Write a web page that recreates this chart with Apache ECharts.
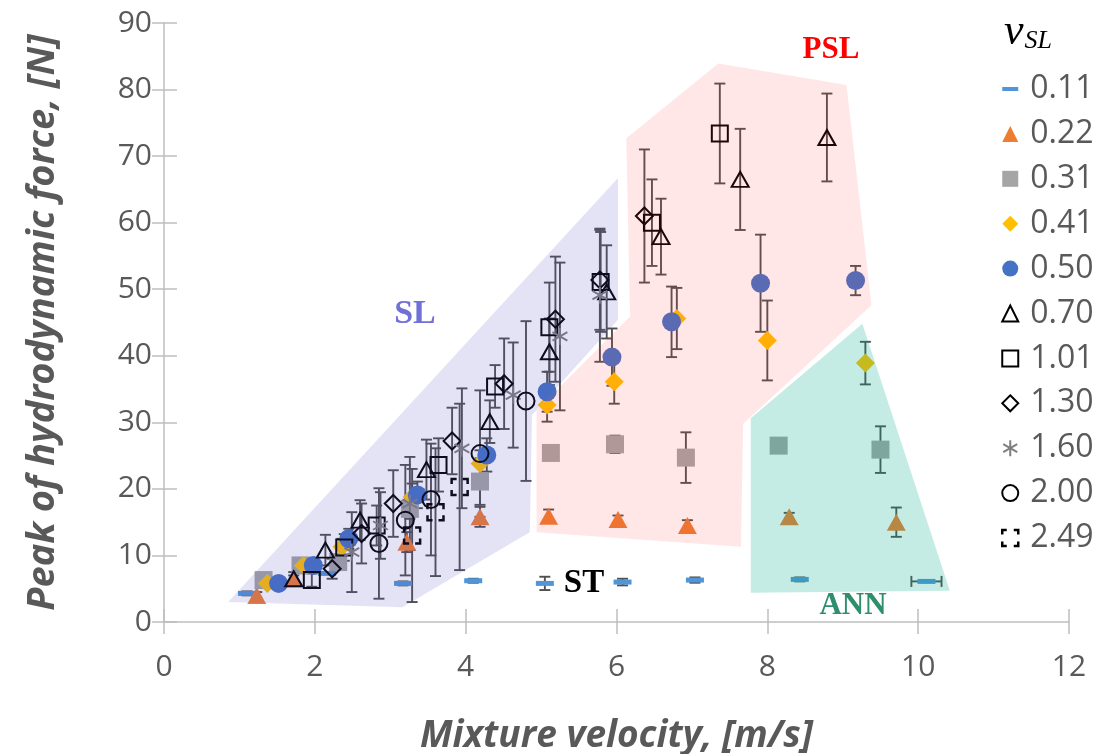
<!DOCTYPE html>
<html><head><meta charset="utf-8">
<script src="https://cdn.jsdelivr.net/npm/echarts@6/dist/echarts.min.js"></script>
<style>html,body{margin:0;padding:0;background:#fff}#c{width:1099px;height:754px}</style>
</head><body><div id="c"></div><script>
// Legend names (superficial liquid velocity, m/s)
const vSL = ['0.11','0.22','0.31','0.41','0.50','0.70','1.01','1.30','1.60','2.00','2.49'];
// Each point: [mixture velocity, peak force, ± y error, ± x error]
const s011 = [[1.10,4.3,0.3],[2.16,7.3,0],[3.17,5.8,0.3],[4.10,6.2,0.3],[5.05,5.8,1.0],[6.08,6.0,0.5],[7.04,6.3,0.4],[8.43,6.4,0.3],[10.11,6.1,0,0.2]];
const s022 = [[1.23,4.0,0.5],[1.72,6.5,0.5],[3.22,12.0,1.5],[4.19,15.8,1.5],[5.10,15.9,1.0],[6.02,15.4,0.6],[6.94,14.5,0.8],[8.29,15.8,0.6],[9.71,15.0,2.2]];
const s031 = [[1.32,6.3,0.5],[1.81,8.5,0.8],[2.31,9.0,1.0],[3.26,17.0,1.5],[4.19,21.1,3.5],[5.13,25.4,0.5],[5.98,26.7,1.3],[6.92,24.7,3.8],[8.15,26.5,0.5],[9.50,25.9,3.5]];
const s041 = [[1.37,5.8,0.5],[1.85,8.5,0.8],[2.36,11.3,1.2],[3.29,18.8,2.0],[4.19,23.8,2.0],[5.08,32.6,2.5],[5.97,36.1,3.3],[6.80,45.6,4.6],[8.00,42.3,6.0],[9.30,38.9,3.2]];
const s050 = [[1.52,5.8,0.5],[1.98,8.5,0.8],[2.45,12.5,1.5],[3.36,19.1,2.0],[4.28,25.1,2.5],[5.08,34.6,3.0],[5.94,39.8,4.3],[6.73,45.1,5.3],[7.91,50.9,7.3],[9.17,51.3,2.2]];
const s070 = [[1.72,6.5,1.0],[2.14,10.8,2.3],[2.60,15.3,3.0],[3.48,22.9,4.5],[4.32,30.1,3.2],[5.11,40.6,5.0],[5.87,49.6,7.0],[6.59,57.9,5.7],[7.64,66.5,7.6],[8.79,72.8,6.6]];
const s101 = [[1.96,6.3,1.0],[2.39,11.2,2.0],[2.82,14.5,3.0],[3.64,23.6,4.0],[4.39,35.4,3.2],[5.11,44.3,6.7],[5.79,51.1,7.5],[6.47,60.0,6.5],[7.37,73.4,7.5]];
const s130 = [[2.23,8.0,1.5],[2.62,13.3,4.5],[3.04,17.8,5.0],[3.82,27.2,5.0],[4.51,35.8,6.8],[5.19,45.5,9.4],[5.78,51.4,7.5],[6.37,61.0,10.0]];
const s160 = [[2.49,10.5,6.0],[2.87,14.5,5.0],[3.26,17.8,7.0],[3.95,26.1,9.0],[4.63,34.1,7.9],[5.25,42.9,11.1],[5.78,49.1,10.0]];
const s200 = [[2.85,11.8,8.3],[3.20,15.3,8.3],[3.54,18.4,8.4],[4.19,25.3,9.5],[4.80,33.2,12.0]];
const s249 = [[3.29,13.0,10.0],[3.60,16.5,9.6],[3.92,20.3,12.5]];
const SERIES_DATA = [s011,s022,s031,s041,s050,s070,s101,s130,s160,s200,s249];
// Flow-regime regions (vertices in data units)
const REGION_SL  = [[0.85,3.0],[6.02,66.7],[6.02,45.4],[4.88,31.1],[4.85,13.5],[3.16,2.2]];
const REGION_PSL = [[6.13,72.7],[7.35,83.9],[9.05,80.7],[9.38,47.6],[7.68,29.8],[7.65,11.3],[4.94,13.5],[4.94,31.8],[6.18,45.9]];
const REGION_ANN = [[7.78,30.6],[9.26,44.8],[10.42,4.7],[7.78,4.4]];
const X_TICKS = [0,2,4,6,8,10,12];
const Y_TICKS = [0,10,20,30,40,50,60,70,80,90];

const HOLLOW = 'rgba(0,0,0,0)';
const STYLES = [
  {symbol:'rect', size:[18,5], item:{color:'#4F95D8'}, icon:'path://M0,0 M0,6 L16,6 L16,10 L0,10 Z M16,16'},
  {symbol:'triangle', size:[19,17], item:{color:'#ED7D31'}},
  {symbol:'rect', size:18, item:{color:'#A5A5A5'}},
  {symbol:'diamond', size:[19,19], item:{color:'#FFC000'}},
  {symbol:'circle', size:19, item:{color:'#4472C4'}},
  {symbol:'triangle', size:[17,15], item:{color:HOLLOW, borderColor:'#000', borderWidth:2}},
  {symbol:'rect', size:16, item:{color:HOLLOW, borderColor:'#000', borderWidth:2}},
  {symbol:'diamond', size:[17,17], item:{color:HOLLOW, borderColor:'#000', borderWidth:2}},
  {symbol:'path://M8,0 L8,16 M1,4 L15,12 M1,12 L15,4', size:17, item:{color:HOLLOW, borderColor:'#7F7F7F', borderWidth:2}},
  {symbol:'circle', size:17, item:{color:HOLLOW, borderColor:'#000', borderWidth:2}},
  {symbol:'rect', size:16, item:{color:HOLLOW, borderColor:'#000', borderWidth:2.5, borderType:[10,6], borderDashOffset:5},
   legendItem:{color:HOLLOW, borderColor:'#000', borderWidth:2.5, borderType:[9,7], borderDashOffset:4.5}}
];
const ERR_COLOR = '#505050';

function errRender(params, api) {
  const x = api.value(0), y = api.value(1), e = api.value(2), ex = api.value(3);
  const style = {stroke: ERR_COLOR, lineWidth: 1.9};
  const ch = [];
  const cw = 5.5;
  if (e > 0) {
    const t = api.coord([x, y + e]), b = api.coord([x, y - e]);
    ch.push({type:'line', shape:{x1:t[0],y1:t[1],x2:b[0],y2:b[1]}, style});
    ch.push({type:'line', shape:{x1:t[0]-cw,y1:t[1],x2:t[0]+cw,y2:t[1]}, style});
    ch.push({type:'line', shape:{x1:b[0]-cw,y1:b[1],x2:b[0]+cw,y2:b[1]}, style});
  }
  if (ex > 0) {
    const l = api.coord([x - ex, y]), r = api.coord([x + ex, y]);
    ch.push({type:'line', shape:{x1:l[0],y1:l[1],x2:r[0],y2:r[1]}, style});
    ch.push({type:'line', shape:{x1:l[0],y1:l[1]-cw,x2:l[0],y2:l[1]+cw}, style});
    ch.push({type:'line', shape:{x1:r[0],y1:r[1]-cw,x2:r[0],y2:r[1]+cw}, style});
  }
  return {type:'group', children: ch};
}
function regionSeries(pts, fill) {
  return {
    type:'custom', silent:true, z:6, data: pts,
    encode:{x:0,y:1},
    renderItem: function (params, api) {
      if (params.dataIndex !== 0) return;
      const p = pts.map(v => api.coord(v));
      return {type:'polygon', shape:{points:p}, style:{fill: fill}};
    }
  };
}

const series = [];
SERIES_DATA.forEach((arr, i) => {
  series.push({
    type:'custom', name:'err'+vSL[i], z:2, silent:true,
    data: arr.map(d => [d[0], d[1], d[2] || 0, d[3] || 0]),
    encode:{x:0,y:1}, renderItem: errRender
  });
});
SERIES_DATA.forEach((arr, i) => {
  const st = STYLES[i];
  series.push({
    type:'scatter', name:vSL[i], z:3,
    data: arr.map(d => [d[0], d[1]]),
    symbol: st.symbol, symbolSize: st.size, symbolKeepAspect: true,
    itemStyle: Object.assign({opacity:1}, st.item)
  });
});
series.push(regionSeries(REGION_SL, 'rgba(90,80,200,0.16)'));
series.push(regionSeries(REGION_PSL, 'rgba(255,60,60,0.12)'));
series.push(regionSeries(REGION_ANN, 'rgba(5,175,140,0.23)'));

const AX = '#BFBFBF';
const LBL = {fontSize:30, color:'#595959', fontFamily:'Open Sans'};
const NAME_X = {fontSize:37, color:'#595959', fontFamily:'Open Sans', fontWeight:'bold', fontStyle:'italic'};
const NAME_Y = {fontSize:38, color:'#595959', fontFamily:'Open Sans', fontWeight:'bold', fontStyle:'italic'};

const chart = echarts.init(document.getElementById('c'), null, {renderer:'canvas'});
chart.setOption({
  animation:false,
  grid:{left:164, right:30, top:23, bottom:132, containLabel:false, outerBoundsMode:'none'},
  xAxis:[
    {type:'value', min:X_TICKS[0], max:X_TICKS[X_TICKS.length-1], interval:2, position:'bottom',
     axisLine:{show:true, lineStyle:{color:AX, width:1.5}},
     axisTick:{show:true, length:12, lineStyle:{color:AX, width:1.5}},
     axisLabel:{...LBL, margin:30}, splitLine:{show:false},
     name:'Mixture velocity, [m/s]', nameLocation:'middle', nameGap:96, nameTextStyle:NAME_X},
    {type:'value', min:X_TICKS[0], max:X_TICKS[X_TICKS.length-1], interval:2, position:'bottom',
     axisLine:{show:false}, axisTick:{show:true, inside:true, length:13, lineStyle:{color:AX, width:1.5}},
     axisLabel:{show:false}, splitLine:{show:false}}
  ],
  yAxis:[
    {type:'value', min:Y_TICKS[0], max:Y_TICKS[Y_TICKS.length-1], interval:10, position:'left',
     axisLine:{show:true, lineStyle:{color:AX, width:1.5}},
     axisTick:{show:true, length:12, lineStyle:{color:AX, width:1.5}},
     axisLabel:{...LBL, margin:12}, splitLine:{show:false},
     name:'Peak of hydrodynamic force, [N]', nameLocation:'middle', nameGap:102, nameTextStyle:NAME_Y},
    {type:'value', min:Y_TICKS[0], max:Y_TICKS[Y_TICKS.length-1], interval:10, position:'left',
     axisLine:{show:false}, axisTick:{show:true, inside:true, length:13, lineStyle:{color:AX, width:1.5}},
     axisLabel:{show:false}, splitLine:{show:false}}
  ],
  legend:{
    orient:'vertical', left:1001, top:73, itemWidth:16, itemHeight:16, itemGap:12.9,
    padding:0, selectedMode:false,
    textStyle:{fontSize:32, color:'#595959', fontFamily:'Open Sans', padding:[0,0,0,7], lineHeight:32},
    data: vSL.map((n,i) => {
      const o = {name:n};
      if (STYLES[i].icon) o.icon = STYLES[i].icon;
      if (STYLES[i].legendItem) o.itemStyle = STYLES[i].legendItem;
      return o;
    })
  },
  graphic:[
    {type:'text', left:1004, top:10, z:20, style:{text:'{v|v}{s|SL}', rich:{
      v:{fontFamily:'Liberation Serif', fontStyle:'italic', fontSize:44, fill:'#000'},
      s:{fontFamily:'Liberation Serif', fontStyle:'italic', fontSize:26, fill:'#000', verticalAlign:'bottom', padding:[17,0,0,1]}}}},
    {type:'text', x:415, y:314, z:20, style:{text:'SL', fill:'#7070D8', font:'bold 34px "Liberation Serif"', align:'center', verticalAlign:'middle'}},
    {type:'text', x:831, y:50, z:20, style:{text:'PSL', fill:'#FF0000', font:'bold 31px "Liberation Serif"', align:'center', verticalAlign:'middle'}},
    {type:'text', x:584, y:583, z:20, style:{text:'ST', fill:'#000', font:'bold 33px "Liberation Serif"', align:'center', verticalAlign:'middle'}},
    {type:'text', x:853, y:606, z:20, style:{text:'ANN', fill:'#2E8F6C', font:'bold 31px "Liberation Serif"', align:'center', verticalAlign:'middle'}}
  ],
  series: series
});
</script></body></html>
